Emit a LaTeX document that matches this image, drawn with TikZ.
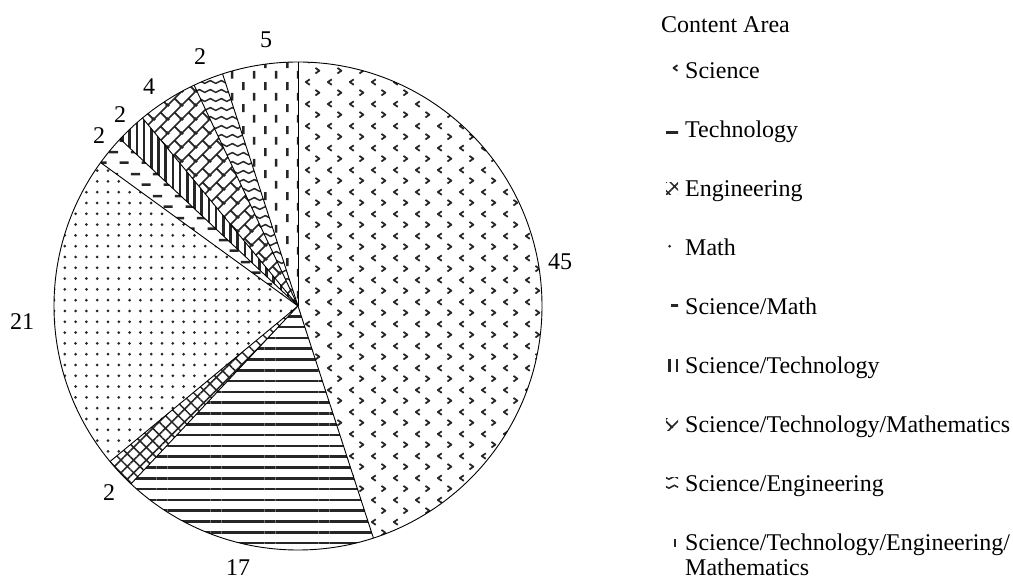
\documentclass[tikz,border=0pt]{standalone}
\usepackage{fontspec}
\setmainfont{Liberation Serif}
\usetikzlibrary{patterns,patterns.meta}

% ---- fill patterns (1pt = one unit of the picture) ----
% small chevrons, "<" and ">" in staggered rows
\pgfdeclarepatternformonly{chevrons}{\pgfqpoint{0pt}{0pt}}{\pgfqpoint{21.6pt}{21.6pt}}{\pgfqpoint{21.6pt}{21.6pt}}{%
  \pgfsetlinewidth{1.8pt}%
  \pgfsetroundjoin
  \pgfpathmoveto{\pgfqpoint{7.9pt}{19pt}}%
  \pgfpathlineto{\pgfqpoint{3.9pt}{16.2pt}}%
  \pgfpathlineto{\pgfqpoint{7.9pt}{13.4pt}}%
  \pgfpathmoveto{\pgfqpoint{13.7pt}{8.2pt}}%
  \pgfpathlineto{\pgfqpoint{17.7pt}{5.4pt}}%
  \pgfpathlineto{\pgfqpoint{13.7pt}{2.6pt}}%
  \pgfusepath{stroke}}
% staggered horizontal dashes
\pgfdeclarepatternformonly{hdashes}{\pgfqpoint{0pt}{0pt}}{\pgfqpoint{21.6pt}{21.6pt}}{\pgfqpoint{21.6pt}{21.6pt}}{%
  \pgfsetlinewidth{2.6pt}%
  \pgfpathmoveto{\pgfqpoint{11.8pt}{5.4pt}}%
  \pgfpathlineto{\pgfqpoint{21pt}{5.4pt}}%
  \pgfpathmoveto{\pgfqpoint{1pt}{16.2pt}}%
  \pgfpathlineto{\pgfqpoint{10.2pt}{16.2pt}}%
  \pgfusepath{stroke}}
% staggered vertical dashes
\pgfdeclarepatternformonly{vdashes}{\pgfqpoint{0pt}{0pt}}{\pgfqpoint{21.6pt}{21.6pt}}{\pgfqpoint{21.6pt}{21.6pt}}{%
  \pgfsetlinewidth{2.5pt}%
  \pgfpathmoveto{\pgfqpoint{5.4pt}{12.2pt}}%
  \pgfpathlineto{\pgfqpoint{5.4pt}{20.2pt}}%
  \pgfpathmoveto{\pgfqpoint{16.2pt}{1.4pt}}%
  \pgfpathlineto{\pgfqpoint{16.2pt}{9.4pt}}%
  \pgfusepath{stroke}}
% horizontal waves
\pgfdeclarepatternformonly{waves}{\pgfqpoint{0pt}{0pt}}{\pgfqpoint{10.8pt}{9pt}}{\pgfqpoint{10.8pt}{9pt}}{%
  \pgfsetlinewidth{1.6pt}%
  \pgfpathmoveto{\pgfqpoint{-1pt}{3pt}}%
  \pgfpathlineto{\pgfqpoint{0pt}{3pt}}%
  \pgfpathcurveto{\pgfqpoint{2.7pt}{3pt}}{\pgfqpoint{2.7pt}{6pt}}{\pgfqpoint{5.4pt}{6pt}}%
  \pgfpathcurveto{\pgfqpoint{8.1pt}{6pt}}{\pgfqpoint{8.1pt}{3pt}}{\pgfqpoint{10.8pt}{3pt}}%
  \pgfpathlineto{\pgfqpoint{11.8pt}{3pt}}%
  \pgfusepath{stroke}}
% bricks laid along the rising diagonal
\pgfdeclarepatternformonly{diagbricks}{\pgfqpoint{0pt}{0pt}}{\pgfqpoint{14pt}{14pt}}{\pgfqpoint{14pt}{14pt}}{%
  \pgfsetlinewidth{1.8pt}%
  % long courses
  \pgfpathmoveto{\pgfqpoint{-1pt}{-1pt}}\pgfpathlineto{\pgfqpoint{15pt}{15pt}}%
  \pgfpathmoveto{\pgfqpoint{7pt}{-7pt}}\pgfpathlineto{\pgfqpoint{21pt}{7pt}}%
  \pgfpathmoveto{\pgfqpoint{-7pt}{7pt}}\pgfpathlineto{\pgfqpoint{7pt}{21pt}}%
  % joints
  \pgfpathmoveto{\pgfqpoint{7pt}{7pt}}\pgfpathlineto{\pgfqpoint{14pt}{0pt}}%
  \pgfpathmoveto{\pgfqpoint{-7pt}{7pt}}\pgfpathlineto{\pgfqpoint{0pt}{0pt}}%
  \pgfpathmoveto{\pgfqpoint{7pt}{21pt}}\pgfpathlineto{\pgfqpoint{14pt}{14pt}}%
  \pgfpathmoveto{\pgfqpoint{-7pt}{21pt}}\pgfpathlineto{\pgfqpoint{0pt}{14pt}}%
  \pgfusepath{stroke}}

\tikzset{
  ink/.style={pattern color=black!85},
  sciP/.style={ink, pattern=chevrons},
  techP/.style={ink, pattern={Lines[angle=0,distance=10.8pt,yshift=5.4pt,line width=2.6pt]}},
  engP/.style={ink, pattern={Hatch[angle=45,distance=9pt,line width=1.5pt]}},
  mathP/.style={ink, pattern={Dots[distance=10.8pt,radius=1.5pt]}},
  smP/.style={ink, pattern=hdashes},
  stP/.style={ink, pattern={Lines[angle=90,distance=7.2pt,line width=2.6pt]}},
  stmP/.style={ink, pattern=diagbricks},
  seP/.style={ink, pattern=waves},
  stemP/.style={ink, pattern=vdashes},
  edge/.style={line width=0.9pt},
  num/.style={inner sep=0pt},
  legtext/.style={anchor=base west, inner sep=0pt},
}

\begin{document}
\begin{tikzpicture}[x=1pt,y=1pt,font=\fontsize{24}{28}\selectfont]
\useasboundingbox (0,0) rectangle (1013,581);
\coordinate (c) at (298,275);
\def\R{244}

% slices, clockwise from twelve o'clock
\fill[sciP]  (c) -- ++(90:\R)    arc[start angle=90,    end angle=-72,    radius=\R] -- cycle;
\fill[techP] (c) -- ++(-72:\R)   arc[start angle=-72,   end angle=-133.2, radius=\R] -- cycle;
\fill[engP]  (c) -- ++(-133.2:\R) arc[start angle=-133.2, end angle=-140.4, radius=\R] -- cycle;
\fill[mathP] (c) -- ++(-140.4:\R) arc[start angle=-140.4, end angle=-216, radius=\R] -- cycle;
\fill[smP]   (c) -- ++(-216:\R)  arc[start angle=-216,  end angle=-223.2, radius=\R] -- cycle;
\fill[stP]   (c) -- ++(-223.2:\R) arc[start angle=-223.2, end angle=-230.4, radius=\R] -- cycle;
\fill[stmP]  (c) -- ++(-230.4:\R) arc[start angle=-230.4, end angle=-244.8, radius=\R] -- cycle;
\fill[seP]   (c) -- ++(-244.8:\R) arc[start angle=-244.8, end angle=-252, radius=\R] -- cycle;
\fill[stemP] (c) -- ++(-252:\R)  arc[start angle=-252,  end angle=-270,   radius=\R] -- cycle;

% slice borders and rim
\foreach \a in {90,-72,-133.2,-140.4,-216,-223.2,-230.4,-244.8,-252}
  \draw[edge] (c) -- ++(\a:\R);
\draw[edge] (c) circle[radius=\R];

% slice values
\node[num] (v45) at (560,319) {45};
\node[num] (v17) at (238,13) {17};
\node[num] (v2e) at (109,88) {2};
\node[num] (v21) at (22,259) {21};
\node[num] (v2sm) at (99,445) {2};
\node[num] (v2st) at (120,466) {2};
\node[num] (v4) at (149,494) {4};
\node[num] (v2se) at (200,524) {2};
\node[num] (v5) at (266,541) {5};

% legend
\node[legtext] (title) at (661,548.5) {Content Area};
\foreach \i/\s/\t in {0/sciP/Science, 1/techP/Technology, 2/engP/Engineering, 3/mathP/Math,
                      4/smP/Science\slash Math, 5/stP/Science\slash Technology,
                      6/stmP/Science\slash Technology\slash Mathematics,
                      7/seP/Science\slash Engineering,
                      8/stemP/Science\slash Technology\slash Engineering\slash}{
  \pgfmathsetmacro{\yb}{502-59*\i}
  \node[legtext] (leg\i) at (685,\yb) {\t};
  \fill[style=\s] (666,\yb+2.5) rectangle (678,\yb+14.5);
}
\node[legtext] (leg8b) at (685,5) {Mathematics};
\end{tikzpicture}
\end{document}
